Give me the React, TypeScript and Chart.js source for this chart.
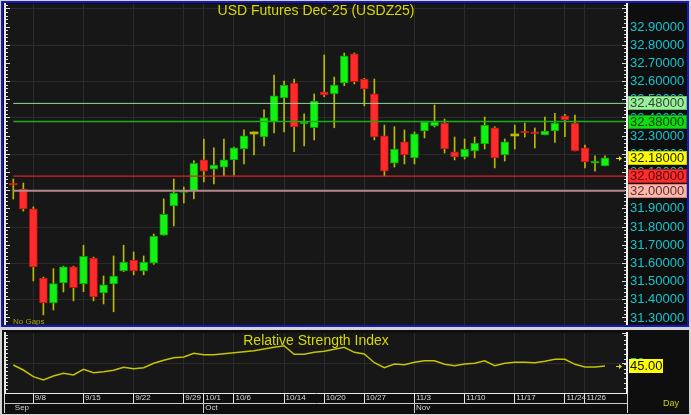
import React, { useEffect, useRef } from "react";
import { Chart, registerables } from "chart.js";

Chart.register(...registerables);

// ---------- texts ----------
const mainTitle = "USD Futures Dec-25 (USDZ25)";
const rsiTitle = "Relative Strength Index";
const gapNote = "No Gaps";
const periodNote = "Day";

// ---------- data ----------
const dates = [
  "9/4", "9/5", "9/8", "9/9", "9/10", "9/11", "9/12", "9/15", "9/16", "9/17",
  "9/18", "9/19", "9/22", "9/23", "9/24", "9/25", "9/26", "9/29", "9/30", "10/1",
  "10/2", "10/3", "10/6", "10/7", "10/8", "10/9", "10/10", "10/14", "10/15", "10/16",
  "10/17", "10/20", "10/21", "10/22", "10/23", "10/27", "10/28", "10/29", "10/30", "10/31",
  "11/3", "11/4", "11/5", "11/6", "11/7", "11/10", "11/11", "11/12", "11/13", "11/14",
  "11/17", "11/18", "11/19", "11/20", "11/21", "11/24", "11/25", "11/26", "11/28", "12/1",
];

const opens = [
  32.042, 32.009, 31.900, 31.520, 31.383, 31.493, 31.581, 31.487, 31.630, 31.438,
  31.487, 31.559, 31.619, 31.559, 31.603, 31.756, 31.916, 31.990, 31.998, 32.169,
  32.119, 32.130, 32.169, 32.229, 32.312, 32.295, 32.378, 32.510, 32.592, 32.367,
  32.346, 32.543, 32.532, 32.592, 32.752, 32.614, 32.532, 32.301, 32.152, 32.268,
  32.180, 32.328, 32.356, 32.372, 32.213, 32.186, 32.218, 32.257, 32.345, 32.196,
  32.301, 32.328, 32.323, 32.306, 32.328, 32.411, 32.372, 32.235, 32.152, 32.136,
];
const highs = [
  32.064, 32.042, 31.911, 31.525, 31.571, 31.585, 31.585, 31.700, 31.635, 31.531,
  31.641, 31.700, 31.663, 31.641, 31.762, 31.955, 32.064, 32.020, 32.165, 32.284,
  32.235, 32.284, 32.240, 32.334, 32.323, 32.444, 32.636, 32.603, 32.614, 32.422,
  32.532, 32.746, 32.625, 32.757, 32.757, 32.618, 32.614, 32.361, 32.352, 32.334,
  32.323, 32.380, 32.471, 32.394, 32.295, 32.284, 32.295, 32.405, 32.352, 32.284,
  32.361, 32.372, 32.345, 32.405, 32.426, 32.420, 32.416, 32.251, 32.191, 32.191,
];
const lows = [
  31.954, 31.888, 31.504, 31.317, 31.344, 31.443, 31.394, 31.445, 31.394, 31.377,
  31.334, 31.555, 31.537, 31.537, 31.595, 31.755, 31.806, 31.932, 31.955, 32.048,
  32.037, 32.081, 32.086, 32.147, 32.196, 32.246, 32.317, 32.323, 32.214, 32.246,
  32.279, 32.517, 32.346, 32.577, 32.587, 32.466, 32.279, 32.081, 32.130, 32.147,
  32.147, 32.290, 32.350, 32.207, 32.169, 32.174, 32.180, 32.229, 32.125, 32.163,
  32.229, 32.295, 32.235, 32.306, 32.266, 32.297, 32.218, 32.125, 32.108, 32.136,
];
const closes = [
  32.031, 31.900, 31.581, 31.383, 31.489, 31.581, 31.467, 31.639, 31.416, 31.482,
  31.531, 31.608, 31.559, 31.608, 31.751, 31.870, 31.987, 31.998, 32.150, 32.108,
  32.141, 32.169, 32.235, 32.301, 32.312, 32.400, 32.521, 32.581, 32.350, 32.378,
  32.493, 32.527, 32.581, 32.741, 32.600, 32.559, 32.295, 32.108, 32.229, 32.196,
  32.312, 32.378, 32.378, 32.229, 32.186, 32.229, 32.262, 32.361, 32.180, 32.268,
  32.301, 32.317, 32.312, 32.328, 32.372, 32.389, 32.218, 32.158, 32.163, 32.180,
];

const rsiValues = [
  46.7, 38.3, 27.2, 21.7, 28.3, 32.8, 30.0, 39.5, 33.8, 35.5,
  37.8, 42.8, 40.5, 42.2, 49.5, 54.5, 58.8, 60.0, 66.2, 63.8,
  63.8, 65.5, 67.2, 68.8, 70.5, 73.3, 76.2, 78.8, 64.5, 64.5,
  67.8, 69.5, 72.8, 76.2, 67.8, 65.0, 50.5, 42.2, 48.3, 47.2,
  51.2, 53.8, 53.8, 47.8, 45.5, 48.3, 49.5, 53.8, 45.5, 49.5,
  51.2, 51.2, 50.5, 52.8, 56.2, 56.2, 47.8, 43.2, 43.2, 45.0,
];

const dateTickLabels = [
  "9/8", "9/15", "9/22", "9/29", "10/1", "10/6", "10/14", "10/20",
  "10/27", "11/3", "11/10", "11/17", "11/24", "11/26",
];
const monthStartDates = ["9/4", "10/1", "11/3"];
const monthNames = ["Sep", "Oct", "Nov"];

const levelValues = [32.48, 32.38, 32.08, 32.0];
const rsiLabelValues = [50];
const emptySlotsAfter = 2;

// ---------- scale ranges ----------
const PRICE_MIN = 31.2615;
const PRICE_MAX = 33.0265;
const PRICE_STEP = 0.1;
const PRICE_MINOR_STEP = 0.02;
const RSI_MIN = 0;
const RSI_MAX = 100;
const X_MIN = -0.8275;
const X_MAX = 61.19;

// ---------- styles ----------
const FONT = '"Liberation Sans", Arial, sans-serif';
const NARROW = '"Liberation Sans Narrow", "Liberation Sans", Arial, sans-serif';
const GRID = "#2b2b2b";
const UP_FILL = "#14f014";
const UP_EDGE = "#00a000";
const DOWN_FILL = "#ff2a2a";
const DOWN_EDGE = "#b81414";
const WICK = "#b9b900";
const AXIS_TEXT = "#12c6cf";
const TICK_MARK = "#dcdcdc";
const levelStyles = [
  { line: "#8edc8e", width: 1, fill: "#9cef9c", edge: "#6cc06c", text: "#2e4a2e" },
  { line: "#12b412", width: 1.5, fill: "#10dc10", edge: "#0a9a0a", text: "#0b3a0b" },
  { line: "#e42020", width: 1.2, fill: "#ff2c2c", edge: "#c01818", text: "#4a0a0a" },
  { line: "#b58a8a", width: 2, fill: "#ffb6ab", edge: "#d08a80", text: "#5a3434" },
];
const lastPriceStyle = { fill: "#ffff00", edge: "#c8c800", text: "#1e1e00" };

Chart.defaults.font.family = FONT;

// fixes an axis size and removes the label padding Chart.js would add around the plot
function fixSize(width?: number, height?: number) {
  return (s: any) => {
    if (width !== undefined) s.width = width;
    if (height !== undefined) s.height = height;
    s.paddingTop = 0;
    s.paddingBottom = 0;
    s.paddingLeft = 0;
    s.paddingRight = 0;
  };
}

function drawArrow(ctx: CanvasRenderingContext2D, xEnd: number, y: number, color: string) {
  ctx.strokeStyle = color;
  ctx.fillStyle = color;
  ctx.lineWidth = 1;
  ctx.beginPath();
  ctx.moveTo(xEnd - 6, y + 0.5);
  ctx.lineTo(xEnd - 2, y + 0.5);
  ctx.stroke();
  ctx.beginPath();
  ctx.moveTo(xEnd, y + 0.5);
  ctx.lineTo(xEnd - 3, y - 2);
  ctx.lineTo(xEnd - 3, y + 3);
  ctx.closePath();
  ctx.fill();
}

const bgPlugin = {
  id: "panelBg",
  beforeDraw(chart: any) {
    const { ctx, chartArea: a, width, height } = chart;
    ctx.save();
    ctx.fillStyle = "#0e0e0e";
    ctx.fillRect(0, 0, width, height);
    ctx.fillStyle = "#171717";
    ctx.fillRect(a.left, a.top, a.right - a.left, a.bottom - a.top);
    ctx.restore();
  },
};

export default function App() {
  const mainRef = useRef<HTMLCanvasElement>(null);
  const rsiRef = useRef<HTMLCanvasElement>(null);

  useEffect(() => {
    document.body.style.margin = "0";
    const n = dates.length;
    const lastSlot = n - 1 + emptySlotsAfter;
    const labeled = new Set(dateTickLabels.map((d) => dates.indexOf(d)));
    const monthAt = new Map<number, string>(
      monthStartDates.map((d, k) => [dates.indexOf(d), monthNames[k]] as [number, string])
    );
    const isLabeled = (c: any) => !!c.tick && labeled.has(c.tick.value);
    const isDoji = (i: number) => opens[i] === closes[i];

    const bodyData = dates.map((_, i) => ({ x: i, y: [opens[i], closes[i]] }));
    const wickData = dates.map((_, i) => ({ x: i, y: [lows[i], highs[i]] }));
    const rsiData = dates.map((_, i) => ({ x: i, y: rsiValues[i] }));

    const levelSets = levelValues.map((v, k) => ({
      type: "line" as const,
      data: [
        { x: 0, y: v },
        { x: lastSlot, y: v },
      ],
      borderColor: levelStyles[k].line,
      borderWidth: levelStyles[k].width,
      pointRadius: 0,
      order: 0,
    }));

    const mainDecor = {
      id: "mainDecor",
      afterDraw(chart: any) {
        const { ctx, chartArea: a, scales } = chart;
        const y = scales.y;
        ctx.save();
        ctx.font = `14px ${FONT}`;
        ctx.fillStyle = "#d8d800";
        ctx.textAlign = "center";
        ctx.textBaseline = "alphabetic";
        ctx.fillText(mainTitle, (a.left + a.right) / 2, 12);

        ctx.font = `8px ${FONT}`;
        ctx.fillStyle = "#a6a600";
        ctx.textAlign = "left";
        ctx.textBaseline = "middle";
        ctx.fillText(gapNote, 10, a.bottom - 3);

        const boxes = levelValues
          .map((v, k) => ({ v, ...levelStyles[k] }))
          .concat([{ v: closes[n - 1], line: "", width: 0, ...lastPriceStyle }]);
        ctx.font = `13px ${FONT}`;
        boxes.forEach((b) => {
          const py = Math.round(y.getPixelForValue(b.v));
          const bx = y.left + 1;
          ctx.fillStyle = b.fill;
          ctx.fillRect(bx, py - 7, 59, 14);
          ctx.strokeStyle = b.edge;
          ctx.lineWidth = 1;
          ctx.strokeRect(bx + 0.5, py - 6.5, 58, 13);
          ctx.fillStyle = b.text;
          ctx.textAlign = "left";
          ctx.textBaseline = "middle";
          ctx.fillText(b.v.toFixed(5), bx + 2, py + 0.5);
        });
        drawArrow(ctx, a.right - 5, Math.round(y.getPixelForValue(closes[n - 1])), "#e0e000");
        ctx.restore();
      },
    };

    const rsiDecor = {
      id: "rsiDecor",
      afterDraw(chart: any) {
        const { ctx, chartArea: a, scales, height } = chart;
        const y = scales.y;
        ctx.save();
        ctx.font = `14px ${FONT}`;
        ctx.fillStyle = "#d8d800";
        ctx.textAlign = "center";
        ctx.textBaseline = "alphabetic";
        ctx.fillText(rsiTitle, (a.left + a.right) / 2, 15);

        // frame of the date rows
        ctx.strokeStyle = "#d8d8d8";
        ctx.lineWidth = 1;
        ctx.beginPath();
        ctx.moveTo(a.right + 0.5, a.bottom);
        ctx.lineTo(a.right + 0.5, height - 1);
        ctx.moveTo(a.left - 0.5, a.bottom);
        ctx.lineTo(a.left - 0.5, height - 1);
        ctx.stroke();

        const last = rsiValues[n - 1];
        const py = Math.round(y.getPixelForValue(last));
        const bx = y.left + 2;
        ctx.fillStyle = "#ffff00";
        ctx.fillRect(bx, py - 7, 34, 14);
        ctx.font = `13px ${FONT}`;
        ctx.fillStyle = "#111100";
        ctx.textAlign = "left";
        ctx.textBaseline = "middle";
        ctx.fillText(last.toFixed(2), bx + 1, py + 0.5);
        drawArrow(ctx, a.right - 5, py, "#e0e000");

        ctx.font = `9px ${FONT}`;
        ctx.fillStyle = "#d0d000";
        ctx.fillText(periodNote, y.left + 36, height - 10.5);
        ctx.restore();
      },
    };

    const commonPlugins = {
      legend: { display: false },
      tooltip: { enabled: false },
      title: { display: false },
    };

    const main = new Chart(mainRef.current as HTMLCanvasElement, {
      type: "bar",
      data: {
        datasets: [
          ...levelSets,
          {
            type: "bar",
            data: bodyData as any,
            backgroundColor: (c: any) => {
              const i = c.dataIndex;
              if (i === undefined) return UP_FILL;
              return isDoji(i) ? WICK : closes[i] > opens[i] ? UP_FILL : DOWN_FILL;
            },
            borderColor: (c: any) => {
              const i = c.dataIndex;
              if (i === undefined) return UP_EDGE;
              return isDoji(i) ? WICK : closes[i] > opens[i] ? UP_EDGE : DOWN_EDGE;
            },
            borderWidth: (c: any) => (c.dataIndex !== undefined && isDoji(c.dataIndex) ? 0 : 1),
            borderSkipped: false,
            barThickness: 8,
            minBarLength: 2,
            grouped: false,
            order: 1,
          },
          {
            type: "bar",
            data: wickData as any,
            backgroundColor: WICK,
            borderWidth: 0,
            barThickness: 1,
            grouped: false,
            order: 2,
          },
        ] as any,
      },
      options: {
        responsive: false,
        animation: false,
        devicePixelRatio: 1,
        events: [],
        layout: { autoPadding: false, padding: { top: 1, bottom: 0, left: 0, right: 0 } } as any,
        plugins: commonPlugins,
        scales: {
          x: {
            type: "linear",
            position: "bottom",
            offset: false,
            min: X_MIN,
            max: X_MAX,
            ticks: { display: false, stepSize: 1, autoSkip: false, includeBounds: false, padding: 0 },
            grid: {
              offset: false,
              color: (c: any) => (isLabeled(c) ? GRID : "transparent"),
              drawTicks: false,
            },
            border: { display: false },
            afterFit: fixSize(undefined, 0),
          },
          y: {
            type: "linear",
            position: "right",
            weight: 1,
            min: PRICE_MIN,
            max: PRICE_MAX,
            ticks: {
              stepSize: PRICE_STEP,
              autoSkip: false,
              includeBounds: false,
              color: AXIS_TEXT,
              font: { family: FONT, size: 13 },
              padding: 8,
              callback: (v: any) => (Number(v) <= PRICE_MAX - 0.05 ? Number(v).toFixed(5) : ""),
            },
            grid: {
              color: (c: any) =>
                c.tick && Math.round(c.tick.value * 10) % 2 === 0 ? GRID : "transparent",
              tickColor: TICK_MARK,
              tickLength: -5,
            },
            border: { color: "#f0f0f0", width: 2 },
            afterFit: fixSize(60),
          },
          yMinor: {
            type: "linear",
            position: "right",
            weight: 0,
            min: PRICE_MIN,
            max: PRICE_MAX,
            ticks: { display: false, stepSize: PRICE_MINOR_STEP, includeBounds: false },
            grid: { drawOnChartArea: false, tickColor: TICK_MARK, tickLength: -3 },
            border: { display: false },
            afterFit: fixSize(0),
          },
          yL: {
            type: "linear",
            position: "left",
            weight: 1,
            min: PRICE_MIN,
            max: PRICE_MAX,
            ticks: { display: false, stepSize: PRICE_MINOR_STEP, includeBounds: false },
            grid: { drawOnChartArea: false, tickColor: TICK_MARK, tickLength: -3 },
            border: { color: "#e8e8e8", width: 2 },
            afterFit: fixSize(2),
          },
          yL2: {
            type: "linear",
            position: "left",
            weight: 0,
            min: PRICE_MIN,
            max: PRICE_MAX,
            ticks: { display: false, stepSize: PRICE_STEP, includeBounds: false },
            grid: { drawOnChartArea: false, tickColor: TICK_MARK, tickLength: -5 },
            border: { display: false },
            afterFit: fixSize(0),
          },
        } as any,
      },
      plugins: [bgPlugin, mainDecor],
    });

    const rsi = new Chart(rsiRef.current as HTMLCanvasElement, {
      type: "line",
      data: {
        datasets: [
          {
            data: rsiData as any,
            borderColor: "#c4c400",
            borderWidth: 1.5,
            pointRadius: 0,
            tension: 0,
          },
        ],
      },
      options: {
        responsive: false,
        animation: false,
        devicePixelRatio: 1,
        events: [],
        layout: { autoPadding: false, padding: { top: 3, bottom: 1, left: 0, right: 0 } } as any,
        plugins: commonPlugins,
        scales: {
          x: {
            type: "linear",
            position: "bottom",
            weight: 0,
            offset: false,
            min: X_MIN,
            max: X_MAX,
            ticks: {
              stepSize: 1,
              autoSkip: false,
              includeBounds: false,
              maxRotation: 0,
              minRotation: 0,
              align: "start",
              labelOffset: 1.5,
              padding: -10,
              color: "#d8d8d8",
              font: { family: NARROW, size: 8 },
              callback: (v: any) => (labeled.has(Number(v)) ? dates[Number(v)] : ""),
            },
            grid: {
              offset: false,
              color: (c: any) => (isLabeled(c) ? GRID : "transparent"),
              tickColor: (c: any) => (isLabeled(c) ? "#e4e4e4" : "transparent"),
              tickLength: 10,
            },
            border: { color: "#e8e8e8", width: 1 },
            afterFit: fixSize(undefined, 10),
          },
          x2: {
            type: "linear",
            position: "bottom",
            weight: 1,
            offset: false,
            min: X_MIN,
            max: X_MAX,
            ticks: {
              stepSize: 1,
              autoSkip: false,
              includeBounds: false,
              maxRotation: 0,
              minRotation: 0,
              align: "start",
              labelOffset: 1.5,
              padding: -10,
              color: "#d0d0d0",
              font: { family: NARROW, size: 8 },
              callback: (v: any) => monthAt.get(Number(v)) || "",
            },
            grid: {
              offset: false,
              drawOnChartArea: false,
              tickColor: (c: any) =>
                c.tick && monthAt.has(c.tick.value) && c.tick.value > 0 ? "#d0d0d0" : "transparent",
              tickLength: 10,
            },
            border: { color: "#c8c8c8", width: 1 },
            afterFit: fixSize(undefined, 10),
          },
          y: {
            type: "linear",
            position: "right",
            weight: 1,
            min: RSI_MIN,
            max: RSI_MAX,
            ticks: {
              stepSize: 50,
              autoSkip: false,
              includeBounds: false,
              color: AXIS_TEXT,
              font: { family: FONT, size: 13 },
              padding: 8,
              callback: (v: any) => (rsiLabelValues.includes(Number(v)) ? String(v) : ""),
            },
            grid: {
              color: (c: any) => (c.tick && rsiLabelValues.includes(c.tick.value) ? GRID : "transparent"),
              tickColor: TICK_MARK,
              tickLength: -5,
            },
            border: { color: "#f0f0f0", width: 2 },
            afterFit: fixSize(62),
          },
          yMinor: {
            type: "linear",
            position: "right",
            weight: 0,
            min: RSI_MIN,
            max: RSI_MAX,
            ticks: { display: false, stepSize: 8, includeBounds: false },
            grid: { drawOnChartArea: false, tickColor: TICK_MARK, tickLength: -3 },
            border: { display: false },
            afterFit: fixSize(0),
          },
          yL: {
            type: "linear",
            position: "left",
            min: RSI_MIN,
            max: RSI_MAX,
            ticks: { display: false, stepSize: 6, includeBounds: false },
            grid: { drawOnChartArea: false, tickColor: TICK_MARK, tickLength: -3 },
            border: { color: "#e8e8e8", width: 2 },
            afterFit: fixSize(3),
          },
        } as any,
      },
      plugins: [bgPlugin, rsiDecor],
    });

    return () => {
      main.destroy();
      rsi.destroy();
    };
  }, []);

  return (
    <div
      style={{
        position: "fixed",
        left: 0,
        top: 0,
        width: 691,
        height: 415,
        background: "#d4d4d4",
        overflow: "hidden",
      }}
    >
      <div
        style={{
          position: "absolute",
          left: 1,
          top: 1,
          width: 688,
          height: 326,
          background: "#1616c2",
        }}
      />
      <canvas
        ref={mainRef}
        width={684}
        height={322}
        style={{ position: "absolute", left: 3, top: 3, display: "block" }}
      />
      <canvas
        ref={rsiRef}
        width={687}
        height={84}
        style={{ position: "absolute", left: 2, top: 330, display: "block" }}
      />
    </div>
  );
}
